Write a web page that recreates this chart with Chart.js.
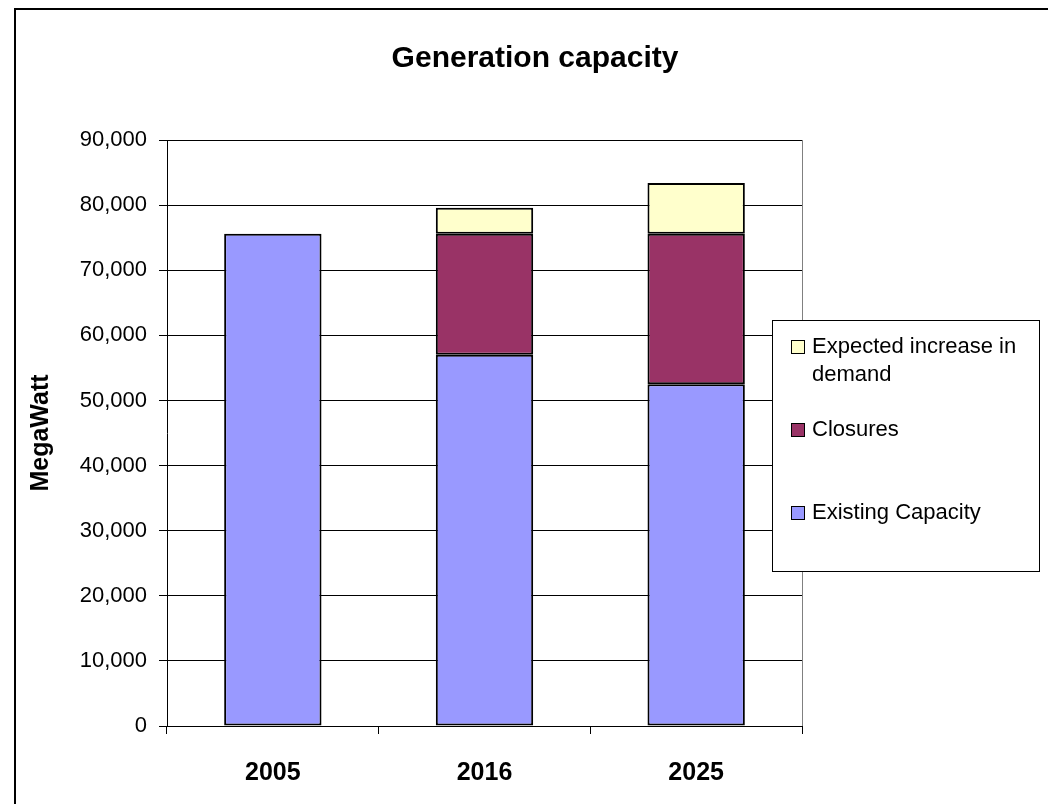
<!DOCTYPE html>
<html>
<head>
  <title>Generation capacity</title>
  <script src="https://cdn.jsdelivr.net/npm/chart.js"></script>
  <style>
    body {
        margin: 0;
        background: #fff;
        font-family: "Liberation Sans", Arial, sans-serif;
    }
    .frame {
        position: absolute;
        left: 14px;
        top: 8px;
        width: 1034px;
        height: 796px;
        border-top: 2px solid #000;
        border-left: 2px solid #000;
    }
    #capacityChart {
        position: absolute;
        left: 0;
        top: 0;
    }
  </style>
</head>
<body>
  <div class="frame"></div>
  <canvas id="capacityChart" width="1048" height="804"></canvas>

  <script>
    // 연도별 발전 설비 용량 (MW)
    const years = ['2005', '2016', '2025'];
    const existingCapacity = [75600, 57000, 52500];
    const closures = [null, 18600, 23100];
    const demandIncrease = [null, 4000, 7800];
    const yTicks = [0, 10000, 20000, 30000, 40000, 50000, 60000, 70000, 80000, 90000];
    const chartTitle = 'Generation capacity';

    // 제목: 캔버스 전체 기준 가운데
    const topTitle = {
      id: 'topTitle',
      afterDraw(chart) {
        const ctx = chart.ctx;
        ctx.save();
        ctx.font = 'bold 30px "Liberation Sans", Arial, sans-serif';
        ctx.fillStyle = '#000';
        ctx.textAlign = 'center';
        ctx.textBaseline = 'middle';
        ctx.fillText(chartTitle, 535, 59);
        ctx.restore();
      }
    };

    // 범례: 차트 영역 오른쪽에 겹쳐서 그림
    const boxLegend = {
      id: 'boxLegend',
      afterDraw(chart) {
        const ctx = chart.ctx;
        const x = 772, y = 320, w = 267, h = 251;
        ctx.save();
        ctx.fillStyle = '#fff';
        ctx.fillRect(x, y, w, h);
        ctx.strokeStyle = '#000';
        ctx.lineWidth = 1;
        ctx.strokeRect(x + 0.5, y + 0.5, w, h);

        ctx.font = '22px "Liberation Sans", Arial, sans-serif';
        ctx.textBaseline = 'middle';
        const sets = chart.data.datasets.slice().reverse();
        sets.forEach((ds, i) => {
          const cy = 347 + i * 83;
          ctx.fillStyle = ds.backgroundColor;
          ctx.fillRect(791, cy - 7, 13, 13);
          ctx.strokeStyle = '#000';
          ctx.strokeRect(791.5, cy - 6.5, 13, 13);

          // 긴 라벨은 줄바꿈
          const words = ds.label.split(' ');
          const lines = [];
          let line = '';
          words.forEach(wd => {
            const test = line ? line + ' ' + wd : wd;
            if (ctx.measureText(test).width > 220 && line) {
              lines.push(line);
              line = wd;
            } else {
              line = test;
            }
          });
          lines.push(line);
          ctx.fillStyle = '#000';
          lines.forEach((t, j) => ctx.fillText(t, 812, cy + j * 28));
        });
        ctx.restore();
      }
    };

    // 플롯 영역 오른쪽 테두리
    const plotBorder = {
      id: 'plotBorder',
      beforeDatasetsDraw(chart) {
        const { ctx, chartArea } = chart;
        ctx.save();
        ctx.strokeStyle = '#808080';
        ctx.lineWidth = 1;
        ctx.beginPath();
        ctx.moveTo(Math.round(chartArea.right) + 0.5, chartArea.top);
        ctx.lineTo(Math.round(chartArea.right) + 0.5, chartArea.bottom);
        ctx.stroke();
        ctx.restore();
      }
    };

    const barStyle = {
      borderColor: '#000',
      borderWidth: 2,
      borderSkipped: false,
      categoryPercentage: 1,
      barPercentage: 0.46
    };

    new Chart(document.getElementById('capacityChart'), {
      type: 'bar',
      data: {
        labels: years,
        datasets: [
          { label: 'Existing Capacity', data: existingCapacity, backgroundColor: '#9999FF', ...barStyle },
          { label: 'Closures', data: closures, backgroundColor: '#993366', ...barStyle },
          { label: 'Expected increase in demand', data: demandIncrease, backgroundColor: '#FFFFCC', ...barStyle }
        ]
      },
      options: {
        responsive: false,
        animation: false,
        layout: {
          padding: { left: 20, right: 246, top: 140, bottom: 0 }
        },
        plugins: {
          legend: { display: false },
          tooltip: { enabled: false },
          title: { display: false }
        },
        scales: {
          x: {
            stacked: true,
            afterFit(scale) { scale.height = 78; },
            grid: {
              drawOnChartArea: false,
              drawTicks: true,
              tickLength: 8,
              color: '#000'
            },
            border: { color: '#000', width: 1 },
            ticks: {
              color: '#000',
              padding: 24,
              font: { family: '"Liberation Sans", Arial, sans-serif', size: 25, weight: 'bold' }
            }
          },
          y: {
            stacked: true,
            min: 0,
            max: 90000,
            afterFit(scale) { scale.width = 147; },
            afterBuildTicks(scale) {
              scale.ticks = yTicks.map(v => ({ value: v }));
            },
            grid: {
              color: '#000',
              tickLength: 8
            },
            border: { color: '#000', width: 1 },
            ticks: {
              color: '#000',
              padding: 12,
              font: { family: '"Liberation Sans", Arial, sans-serif', size: 22 },
              callback: v => v.toLocaleString('en-US')
            },
            title: {
              display: true,
              text: 'MegaWatt',
              color: '#000',
              padding: { top: 6, bottom: 0 },
              font: { family: '"Liberation Sans", Arial, sans-serif', size: 25, weight: 'bold' }
            }
          }
        }
      },
      plugins: [plotBorder, topTitle, boxLegend]
    });
  </script>
</body>
</html>
